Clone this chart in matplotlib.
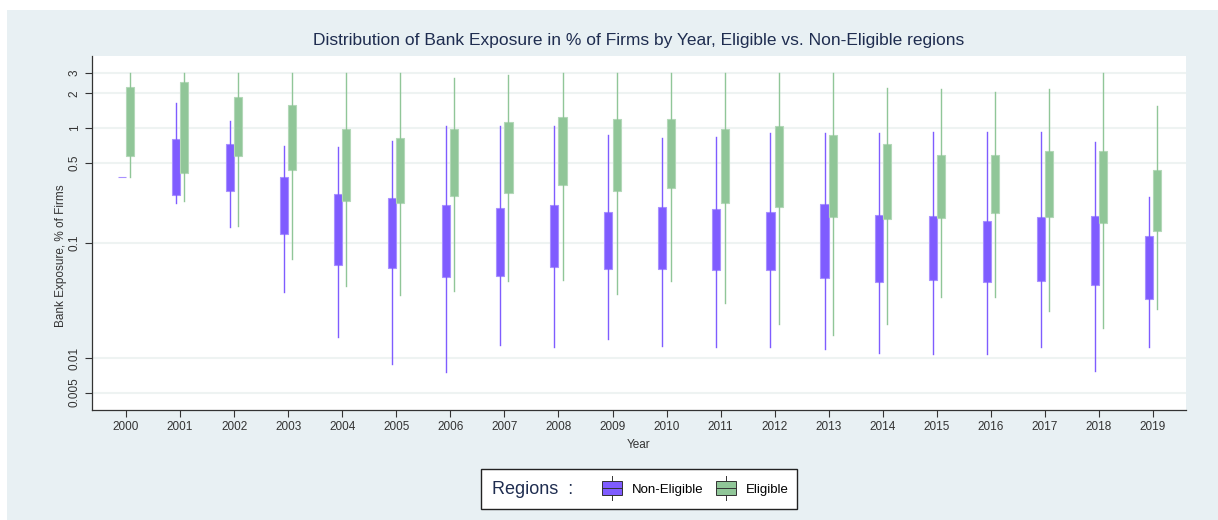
import matplotlib
matplotlib.use("Agg")
import matplotlib.pyplot as plt
import numpy as np
from matplotlib.patches import Rectangle
from matplotlib.lines import Line2D
from matplotlib.legend_handler import HandlerBase

plt.rcParams['font.family'] = ['Liberation Sans', 'DejaVu Sans']

# Data
years = list(range(2000, 2020))

# Non-eligible regions: whisker low, q1, q3, whisker high
ne_lo = [0.377, 0.224, 0.139, 0.0373, 0.0151, 0.00887, 0.0076, 0.0131, 0.0124, 0.0145,
         0.0126, 0.0124, 0.0124, 0.012, 0.0111, 0.0108, 0.0108, 0.0124, 0.00776, 0.0125]
ne_q1 = [0.377, 0.263, 0.285, 0.12, 0.0648, 0.061, 0.0506, 0.0516, 0.0622, 0.0598,
         0.0598, 0.0582, 0.0582, 0.0499, 0.046, 0.0477, 0.046, 0.0468, 0.0429, 0.0324]
ne_q3 = [0.377, 0.807, 0.730, 0.377, 0.265, 0.245, 0.213, 0.20, 0.213, 0.187,
         0.204, 0.196, 0.185, 0.218, 0.174, 0.171, 0.156, 0.167, 0.171, 0.115]
ne_hi = [0.377, 1.66, 1.15, 0.70, 0.684, 0.766, 1.04, 1.04, 1.04, 0.863,
         0.824, 0.83, 0.90, 0.90, 0.90, 0.923, 0.923, 0.923, 0.751, 0.253]

# Eligible regions
el_lo = [0.373, 0.233, 0.141, 0.0722, 0.0423, 0.0351, 0.038, 0.047, 0.0477, 0.0358,
         0.047, 0.0299, 0.0198, 0.0157, 0.0198, 0.0337, 0.0337, 0.0258, 0.0181, 0.0268]
el_q1 = [0.574, 0.404, 0.574, 0.431, 0.233, 0.224, 0.258, 0.274, 0.321, 0.285,
         0.299, 0.224, 0.207, 0.168, 0.161, 0.164, 0.181, 0.167, 0.150, 0.128]
el_q3 = [2.26, 2.51, 1.85, 1.59, 0.99, 0.824, 0.99, 1.13, 1.25, 1.19,
         1.19, 0.974, 1.04, 0.863, 0.73, 0.582, 0.582, 0.635, 0.635, 0.429]
el_hi = [3, 3, 3, 3, 3, 3, 2.72, 2.89, 3, 3,
         3, 3, 3, 3, 2.21, 2.17, 2.04, 2.17, 3, 1.56]

yticks = [0.005, 0.01, 0.1, 0.5, 1, 2, 3]
ytick_labels = ['0.005', '0.01', '0.1', '0.5', '1', '2', '3']

purple = '#7f5cff'
purple_edge = '#a891ff'
green = '#90c698'
green_edge = '#b3d8b8'
navy = '#1f2d50'
bg = '#e8f0f3'


def stats(lo, q1, q3, hi):
    return [dict(whislo=a, q1=b, med=c, q3=c, whishi=d, fliers=[])
            for a, b, c, d in zip(lo, q1, q3, hi)]


fig = plt.figure(figsize=(12.18, 5.2), dpi=100)
fig.patch.set_facecolor('white')
fig.patches.append(Rectangle((7 / 1218, 0), 1 - 7 / 1218, 1 - 10 / 520,
                             transform=fig.transFigure, facecolor=bg,
                             edgecolor='none', zorder=-10))

ax = fig.add_axes([92 / 1218, 1 - 410 / 520, (1186 - 92) / 1218, (410 - 56) / 520])
ax.set_facecolor('white')
ax.set_yscale('log')

pos = np.array(years, dtype=float)
w = 0.15

for st, off, fc, ec in [(stats(ne_lo, ne_q1, ne_q3, ne_hi), -0.078, purple, purple_edge),
                        (stats(el_lo, el_q1, el_q3, el_hi), 0.075, green, green_edge)]:
    ax.bxp(st, positions=pos + off, widths=w, patch_artist=True,
           showcaps=False, showfliers=False, manage_ticks=False,
           boxprops=dict(facecolor=fc, edgecolor=ec, linewidth=0.8),
           whiskerprops=dict(color=fc, linewidth=1.0),
           medianprops=dict(linewidth=0))

ax.set_xlim(1999.37, 2019.61)
ax.set_ylim(0.00353, 4.23)

ax.set_yticks(yticks)
ax.set_yticklabels(ytick_labels, rotation=90, va='center', fontsize=8.5, color='#333333')
ax.yaxis.set_minor_locator(matplotlib.ticker.NullLocator())
ax.set_xticks(years)
ax.set_xticklabels([str(y) for y in years], fontsize=8.5, color='#333333')
ax.tick_params(axis='both', direction='out', length=5, width=0.8, color='#333333', pad=3)

ax.grid(axis='y', color='#eef3f2', linewidth=1.5)
ax.set_axisbelow(True)
for s in ['top', 'right']:
    ax.spines[s].set_visible(False)
for s in ['left', 'bottom']:
    ax.spines[s].set_color('#333333')
    ax.spines[s].set_linewidth(0.9)

ax.set_xlabel('Year', fontsize=8.5, color='#333333', labelpad=4)
ax.set_ylabel('Bank Exposure, % of Firms', fontsize=8.5, color='#333333')
ax.yaxis.set_label_coords(-0.023, 0.435)

fig.text(639 / 1218, 1 - 40 / 520,
         'Distribution of Bank Exposure in % of Firms by Year, Eligible vs. Non-Eligible regions',
         ha='center', va='center', fontsize=12.5, color=navy)


# legend glyph: small box with a middle line and whisker stubs
class HandlerBoxGlyph(HandlerBase):
    def create_artists(self, legend, orig_handle, xdescent, ydescent,
                       width, height, fontsize, trans):
        fc = orig_handle.get_facecolor()
        x0 = -xdescent
        y0 = -ydescent - height * 0.1
        h = height * 1.2
        rect = Rectangle((x0, y0), width, h, facecolor=fc,
                         edgecolor='#333333', linewidth=0.7, transform=trans)
        mid = Line2D([x0, x0 + width], [y0 + h / 2] * 2, color='#333333',
                     linewidth=0.7, transform=trans)
        cx = x0 + width / 2
        up = Line2D([cx, cx], [y0 + h, y0 + h * 1.4], color='#333333',
                    linewidth=0.7, transform=trans)
        dn = Line2D([cx, cx], [y0, y0 - h * 0.4], color='#333333',
                    linewidth=0.7, transform=trans)
        return [rect, mid, up, dn]


h_ne = Rectangle((0, 0), 1, 1, facecolor=purple)
h_el = Rectangle((0, 0), 1, 1, facecolor=green)

fig.patches.append(Rectangle((481 / 1218, 1 - 509 / 520), (797 - 481) / 1218, 40 / 520,
                             transform=fig.transFigure, facecolor='white',
                             edgecolor='#222222', linewidth=1.0, zorder=1))
fig.text(492 / 1218, 1 - 489 / 520, 'Regions  :', ha='left', va='center',
         fontsize=13, color=navy, zorder=3)
leg = fig.legend([h_ne, h_el], ['Non-Eligible', 'Eligible'],
                 handler_map={Rectangle: HandlerBoxGlyph()},
                 loc='center left', bbox_to_anchor=(590 / 1218, 1 - 489 / 520),
                 ncol=2, frameon=False, fontsize=9.5, handlelength=1.5,
                 handleheight=0.9, handletextpad=0.8, columnspacing=0.9)
leg.set_zorder(3)

fig.savefig('out.png', dpi=100, facecolor=fig.get_facecolor())
